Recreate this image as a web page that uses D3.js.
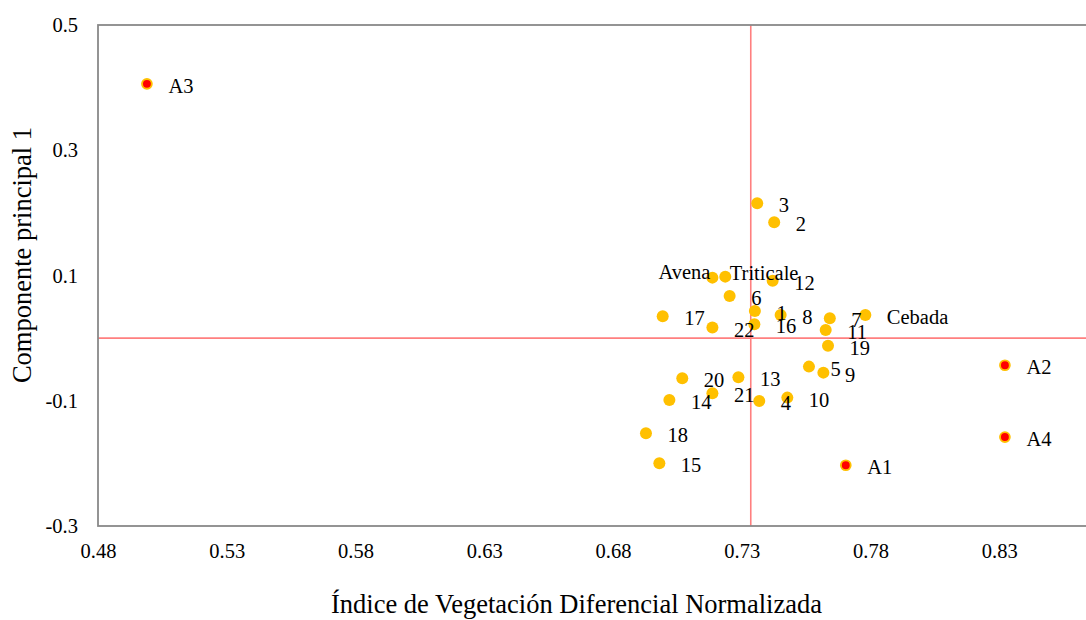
<!DOCTYPE html>
<html>
<head>
<meta charset="utf-8">
<script src="https://cdn.jsdelivr.net/npm/d3@7"></script>
<style>
  html, body { margin: 0; padding: 0; background: #fff; }
  svg { display: block; }
  text { font-family: "Liberation Serif", "Times New Roman", serif; fill: #000; }
</style>
</head>
<body>
<svg id="chart" width="1086" height="620"></svg>
<script>
// Cultivars / lines: NDVI vs first principal component score
const sampleNames = ["3", "2", "Avena", "Triticale", "12", "6", "1", "8", "16", "22", "17", "7", "11",
                     "Cebada", "19", "5", "9", "20", "13", "21", "14", "4", "10", "18", "15"];
const sampleNdvi  = [0.7360, 0.7426, 0.7186, 0.7236, 0.7420, 0.7253, 0.7351, 0.7451, 0.7349, 0.7186,
                     0.6993, 0.7642, 0.7626, 0.7780, 0.7635, 0.7561, 0.7617, 0.7069, 0.7287, 0.7186,
                     0.7019, 0.7368, 0.7477, 0.6928, 0.6980];
const sampleCp1   = [0.2154, 0.1851, 0.0966, 0.0982, 0.0918, 0.0674, 0.0434, 0.0370, 0.0222, 0.0168,
                     0.0350, 0.0318, 0.0131, 0.0370, -0.0120, -0.0455, -0.0551, -0.0640, -0.0624, -0.0880,
                     -0.0987, -0.1003, -0.0950, -0.1519, -0.1998];

// Reference sites A1–A4
const siteNames = ["A1", "A2", "A3", "A4"];
const siteNdvi  = [0.7704, 0.8322, 0.4990, 0.8322];
const siteCp1   = [-0.203, -0.0433, 0.406, -0.158];

// Reference lines (mean NDVI, zero score)
const refNdvi = 0.7335;
const refCp1 = 0;

// Axis ticks
const xTickValues = [0.48, 0.53, 0.58, 0.63, 0.68, 0.73, 0.78, 0.83];
const yTickValues = [0.5, 0.3, 0.1, -0.1, -0.3];
const xDomain = [0.48, 0.88];
const yDomain = [-0.3, 0.5];

const svg = d3.select("#chart");
const plot = { left: 98, top: 25, right: 1128, bottom: 526 };

const x = d3.scaleLinear().domain(xDomain).range([plot.left, plot.right]);
const y = d3.scaleLinear().domain(yDomain).range([plot.bottom, plot.top]);

const frameColor = "#898989";
const refColor = "#FF7F7F";
const dotColor = "#FFC000";
const siteColor = "#FF0000";
const labelSize = "20.5px";

// Axis tick labels
const xAxis = d3.axisBottom(x).tickValues(xTickValues).tickSize(0).tickPadding(17.5)
  .tickFormat(d => String(d));
const yAxis = d3.axisLeft(y).tickValues(yTickValues).tickSize(0).tickPadding(20)
  .tickFormat(d => String(d));

svg.append("g").attr("transform", `translate(0,${plot.bottom})`).call(xAxis)
  .call(g => g.select(".domain").remove())
  .selectAll("text").style("font-size", labelSize).style("font-family", '"Liberation Serif", serif').attr("fill", "#000");
svg.append("g").attr("transform", `translate(${plot.left},0)`).call(yAxis)
  .call(g => g.select(".domain").remove())
  .selectAll("text").style("font-size", labelSize).style("font-family", '"Liberation Serif", serif').attr("fill", "#000");

// Reference lines
svg.append("line")
  .attr("x1", x(refNdvi)).attr("x2", x(refNdvi))
  .attr("y1", y(yDomain[1])).attr("y2", y(yDomain[0]))
  .attr("stroke", refColor).attr("stroke-width", 1.6);
svg.append("line")
  .attr("x1", x(xDomain[0])).attr("x2", x(xDomain[1]))
  .attr("y1", y(refCp1)).attr("y2", y(refCp1))
  .attr("stroke", refColor).attr("stroke-width", 1.6);

// Plot frame
svg.append("rect")
  .attr("x", x(xDomain[0])).attr("y", y(yDomain[1]))
  .attr("width", x(xDomain[1]) - x(xDomain[0]))
  .attr("height", y(yDomain[0]) - y(yDomain[1]))
  .attr("fill", "none").attr("stroke", frameColor).attr("stroke-width", 1.8);

// Sample points
const samples = sampleNames.map((n, i) => ({ name: n, ndvi: sampleNdvi[i], cp1: sampleCp1[i] }));
const sites = siteNames.map((n, i) => ({ name: n, ndvi: siteNdvi[i], cp1: siteCp1[i] }));

svg.append("g").selectAll("circle").data(samples).join("circle")
  .attr("cx", d => x(d.ndvi)).attr("cy", d => y(d.cp1))
  .attr("r", 6).attr("fill", dotColor);

svg.append("g").selectAll("circle").data(sites).join("circle")
  .attr("cx", d => x(d.ndvi)).attr("cy", d => y(d.cp1))
  .attr("r", 4.9).attr("fill", siteColor)
  .attr("stroke", dotColor).attr("stroke-width", 1.9);

// Point labels (default: to the right of the marker)
const labelPlacement = {
  "Avena": { dx: -2, dy: 1, anchor: "end" },
  "Triticale": { dx: 4.5, dy: 3, anchor: "start" }
};
const place = d => labelPlacement[d.name] || { dx: 21.5, dy: 9, anchor: "start" };

svg.append("g").selectAll("text").data(samples.concat(sites)).join("text")
  .attr("x", d => x(d.ndvi) + place(d).dx)
  .attr("y", d => y(d.cp1) + place(d).dy)
  .attr("text-anchor", d => place(d).anchor)
  .style("font-size", labelSize)
  .text(d => d.name);

// Axis titles
svg.append("text")
  .attr("x", 576.5).attr("y", 613)
  .attr("text-anchor", "middle")
  .style("font-size", "26.5px")
  .text("Índice de Vegetación Diferencial Normalizada");

svg.append("text")
  .attr("transform", "translate(30.5,255) rotate(-90)")
  .attr("text-anchor", "middle")
  .style("font-size", "26.5px")
  .text("Componente principal 1");
</script>
</body>
</html>
